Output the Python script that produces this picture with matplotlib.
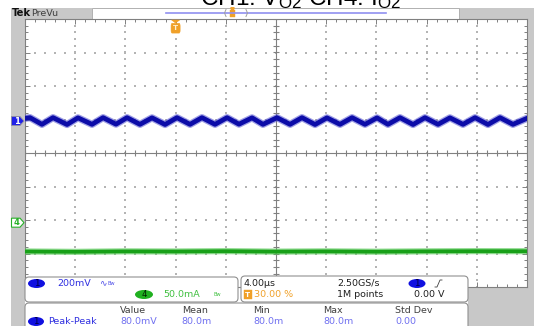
import matplotlib
matplotlib.use("Agg")
import matplotlib.pyplot as plt
from matplotlib.patches import Rectangle, FancyBboxPatch, Polygon, Ellipse
import numpy as np

plt.rcParams['mathtext.fontset'] = 'custom'
plt.rcParams['mathtext.rm'] = 'Liberation Sans'
plt.rcParams['mathtext.it'] = 'Liberation Sans:italic'

# ---- acquisition settings ----
TIME_PER_DIV = 4.0          # us / div
CH1_SCALE = 200.0           # mV / div
CH4_SCALE = 50.0            # mA / div
CH1_POS = 0.955             # div
CH4_POS = -2.08             # div
TRIG_T = -8.0               # us (30 % of record)

# ---- CH1: output voltage ripple (AC, mV) ----
ch1_t = [-20.0, -19.6, -18.65, -17.77, -16.65, -15.78, -14.66, -13.78, -12.75,
         -11.87, -10.84, -9.88, -8.84, -7.89, -6.85, -5.90, -4.86, -3.90, -2.95,
         -1.91, -1.04, 0.08, 1.12, 2.07, 3.11, 4.06, 5.10, 6.06, 7.09, 8.05, 8.92,
         9.88, 10.92, 11.87, 12.91, 13.86, 14.90, 15.86, 16.89, 17.85, 18.88, 20.0]
ch1_mv = [16, 20, -20, 20, -21, 19, -20, 20, -19, 20, -20, 19, -21, 20, -20, 20,
          -20, 20, -19, 19, -20, 20, -20, 20, -21, 19, -20, 20, -20, 19, -20, 20,
          -21, 20, -20, 19, -20, 20, -21, 20, -20, 16]

# ---- CH4: output current (mA) ----
ch4_t = [-20.0, -16.0, -12.0, -8.0, -4.0, 0.0, 4.0, 8.0, 12.0, 16.0, 20.0]
ch4_ma = [-43.0, -43.5, -42.8, -43.0, -42.5, -43.2, -42.8, -43.3, -42.8, -42.5, -42.6]

# ---- readouts ----
ch1_label = "200mV"
ch4_label = "50.0mA"
time_label = "4.00\u00b5s"
trig_pct = "30.00 %"
rate_label = "2.50GS/s"
points_label = "1M points"
trig_level = "0.00 V"
meas_heads = ["Value", "Mean", "Min", "Max", "Std Dev"]
meas_vals = ["80.0mV", "80.0m", "80.0m", "80.0m", "0.00"]

W, H = 534, 326
fig = plt.figure(figsize=(W / 100, H / 100), dpi=100)
fig.patch.set_facecolor("white")

GRAY = "#c8c8c8"
BLUE = "#1818d8"
GREEN = "#28b028"
ORANGE = "#f0a028"

# background layer (pixel coordinates, origin top-left)
bg = fig.add_axes([0, 0, 1, 1], zorder=0)
bg.set_xlim(0, W); bg.set_ylim(H, 0); bg.axis("off")
bg.add_patch(Rectangle((11, 8), 14, H - 8, color=GRAY, lw=0))
bg.add_patch(Rectangle((11, 8), 81, 11, color=GRAY, lw=0))
bg.add_patch(Rectangle((459, 8), W - 459, 11, color=GRAY, lw=0))
bg.add_patch(Rectangle((527, 8), W - 527, H - 8, color=GRAY, lw=0))
bg.add_patch(Rectangle((468, 287), W - 468, H - 287, color=GRAY, lw=0))
bg.add_patch(Rectangle((92, 8), 367, 11, facecolor="white", edgecolor="#b0b0b0", lw=0.7))

# graticule
GX0, GX1, GY0, GY1 = 25, 527, 19, 287
ax = fig.add_axes([GX0 / W, 1 - GY1 / H, (GX1 - GX0) / W, (GY1 - GY0) / H], zorder=1)
ax.set_facecolor("white")
ax.set_xlim(-5 * TIME_PER_DIV, 5 * TIME_PER_DIV)
ax.set_ylim(-4, 4)
for s in ax.spines.values():
    s.set_color("#808080"); s.set_linewidth(0.8)
xminor = np.arange(-20, 20.01, TIME_PER_DIV / 5)
yminor = np.arange(-4, 4.01, 0.2)
ax.set_xticks(np.arange(-20, 20.01, TIME_PER_DIV))
ax.set_yticks(np.arange(-4, 4.01, 1))
ax.set_xticks(xminor, minor=True)
ax.set_yticks(yminor, minor=True)
ax.tick_params(which="both", direction="in", top=True, right=True,
               labelbottom=False, labelleft=False, color="#808080", width=0.7)
ax.tick_params(which="major", length=3.5)
ax.tick_params(which="minor", length=2.2)

# dotted division lines
for xv in np.arange(-16, 16.01, TIME_PER_DIV):
    if abs(xv) > 1e-6:
        ax.scatter(np.full(yminor.size, xv), yminor, s=0.7, marker="s",
                   color="#b4b4b4", lw=0, zorder=1)
for yv in np.arange(-3, 3.01, 1):
    if abs(yv) > 1e-6:
        ax.scatter(xminor, np.full(xminor.size, yv), s=0.7, marker="s",
                   color="#b4b4b4", lw=0, zorder=1)

# centre axes with tick marks
ax.axhline(0, color="#808080", lw=0.8, zorder=1)
ax.axvline(0, color="#808080", lw=0.8, zorder=1)
ax.plot(xminor, np.zeros(xminor.size), ls="none", marker="|", ms=4,
        mec="#808080", mew=0.8, zorder=1)
ax.plot(np.zeros(yminor.size), yminor, ls="none", marker="_", ms=4,
        mec="#808080", mew=0.8, zorder=1)

# traces
y1 = CH1_POS + np.array(ch1_mv) / CH1_SCALE
y4 = CH4_POS + np.array(ch4_ma) / CH4_SCALE
ax.plot(ch1_t, y1, color="#5050d0", lw=5.2, alpha=0.55, solid_joinstyle="round", zorder=3)
ax.plot(ch1_t, y1, color="#0c0ca8", lw=3.4, solid_joinstyle="round", zorder=4)
ax.plot(ch4_t, y4, color="#58c858", lw=4.4, alpha=0.7, zorder=3)
ax.plot(ch4_t, y4, color="#18a018", lw=2.6, zorder=4)

# trigger position marker inside graticule
ax.add_patch(Polygon([(TRIG_T - 0.32, 3.97), (TRIG_T + 0.32, 3.97), (TRIG_T, 3.88)],
                     closed=True, fc=ORANGE, ec=ORANGE, lw=0.4, zorder=5))
ax.add_patch(FancyBboxPatch((TRIG_T - 0.36, 3.58), 0.72, 0.29,
                            boxstyle="round,pad=0,rounding_size=0.08",
                            fc=ORANGE, ec=ORANGE, lw=0.4, zorder=5))
ax.text(TRIG_T, 3.725, "T", color="#fff0d0", fontsize=5.2, fontweight="bold",
        ha="center", va="center", zorder=6)

# foreground layer (pixel coordinates)
fg = fig.add_axes([0, 0, 1, 1], zorder=2)
fg.set_xlim(0, W); fg.set_ylim(H, 0); fg.axis("off")
fg.patch.set_alpha(0)

# title
fg.text(301, 5, r"CH1: V$_{\mathrm{O2}}$ CH4: I$_{\mathrm{O2}}$", fontsize=17.5,
        family="Liberation Sans", color="black", ha="center", va="baseline")

# header readout
fg.text(12, 13.5, "Tek", fontsize=7.2, fontweight="bold", color="#101010",
        family="DejaVu Sans", va="center")
fg.text(31.5, 13.5, "PreVu", fontsize=6.8, color="#404040", family="DejaVu Sans",
        va="center")
fg.plot([166, 386], [12.7, 12.7], color="#9090f0", lw=1.2)
fg.plot([226, 224.5, 226], [9.5, 13, 16.5], color="#a0a0a0", lw=0.7)
fg.plot([246, 247.5, 246], [9.5, 13, 16.5], color="#a0a0a0", lw=0.7)
fg.add_patch(Rectangle((229.5, 10), 5, 7, fc=ORANGE, ec=ORANGE, lw=0.3))
fg.plot([232], [9.2], marker="v", ms=2.5, color=ORANGE)

# channel level markers
m1y = 153 - CH1_POS * 33.5
m4y = 153 - CH4_POS * 33.5
fg.add_patch(Polygon([(11.5, m1y - 4.5), (20, m1y - 4.5), (24, m1y), (20, m1y + 4.5),
                      (11.5, m1y + 4.5)], closed=True, fc="#2020e8", ec="#9090a0", lw=0.6))
fg.text(16.5, m1y + 0.3, "1", color="white", fontsize=6, fontweight="bold",
        ha="center", va="center")
fg.add_patch(Polygon([(11.5, m4y - 4.5), (20, m4y - 4.5), (24, m4y), (20, m4y + 4.5),
                      (11.5, m4y + 4.5)], closed=True, fc="white", ec=GREEN, lw=0.8))
fg.text(16.5, m4y + 0.3, "4", color=GREEN, fontsize=6, fontweight="bold",
        ha="center", va="center")

# readout panels
for (x0, y0, w, h) in [(25, 277, 213, 25), (241, 276, 227, 26), (25, 303, 443, 30)]:
    fg.add_patch(FancyBboxPatch((x0, y0), w, h, boxstyle="round,pad=0,rounding_size=4",
                                fc="white", ec="#909090", lw=0.8))

FS = 6.8
TXT = "#202020"
fam = "DejaVu Sans"
# channel panel
fg.add_patch(Ellipse((36.5, 283.5), 17, 9, fc="#1010e0", ec="none"))
fg.text(36.5, 283.7, "1", color="#000040", fontsize=6.2, ha="center", va="center", family=fam)
fg.text(57, 283.5, ch1_label, color="#3030e0", fontsize=FS, va="center", family=fam)
fg.text(99, 283.0, "\u223f", color="#5050e8", fontsize=6.5, va="center", family=fam)
fg.text(107, 283.5, "Bw", color="#5050e8", fontsize=3.6, va="center", family=fam)
fg.add_patch(Ellipse((144, 294.5), 18, 9, fc="#20b020", ec="none"))
fg.text(144, 294.7, "4", color="#002000", fontsize=6.2, ha="center", va="center", family=fam)
fg.text(163, 294.5, ch4_label, color="#40c040", fontsize=FS, va="center", family=fam)
fg.text(213, 294.5, "Bw", color="#40c040", fontsize=3.6, va="center", family=fam)

# timebase / trigger panel
fg.text(244, 283.5, time_label, color=TXT, fontsize=FS, va="center", family=fam)
fg.add_patch(Rectangle((243.5, 290), 8, 9, fc=ORANGE, ec=ORANGE, lw=0.3))
fg.text(247.5, 294.7, "T", color="white", fontsize=5.2, fontweight="bold",
        ha="center", va="center", family=fam)
fg.text(253.5, 294.5, trig_pct, color=ORANGE, fontsize=FS, va="center", family=fam)
fg.text(337, 283.5, rate_label, color=TXT, fontsize=FS, va="center", family=fam)
fg.text(337, 294.5, points_label, color=TXT, fontsize=FS, va="center", family=fam)
fg.add_patch(Ellipse((417, 283.5), 17, 9, fc="#1010e0", ec="none"))
fg.text(417, 283.7, "1", color="#000040", fontsize=6.2, ha="center", va="center", family=fam)
fg.plot([435, 437, 440, 442], [287, 287, 280, 280], color="#404040", lw=0.6)
fg.text(445, 294.5, trig_level, color=TXT, fontsize=FS, va="center", ha="right", family=fam)

# measurement panel
head_x = [120, 181.7, 253, 323, 395]
for hx, lab, val in zip(head_x, meas_heads, meas_vals):
    fg.text(hx, 310.5, lab, color="#404040", fontsize=FS, va="center", family=fam)
    fg.text(hx, 321.7, val, color="#7070f0", fontsize=FS, va="center", family=fam)
fg.add_patch(Ellipse((36, 321.5), 16, 9, fc="#1010e0", ec="none"))
fg.text(36, 321.7, "1", color="#000040", fontsize=6.2, ha="center", va="center", family=fam)
fg.text(47.7, 321.7, "Peak-Peak", color="#3030e0", fontsize=FS, va="center", family=fam)

fig.savefig("out.png", dpi=100)
